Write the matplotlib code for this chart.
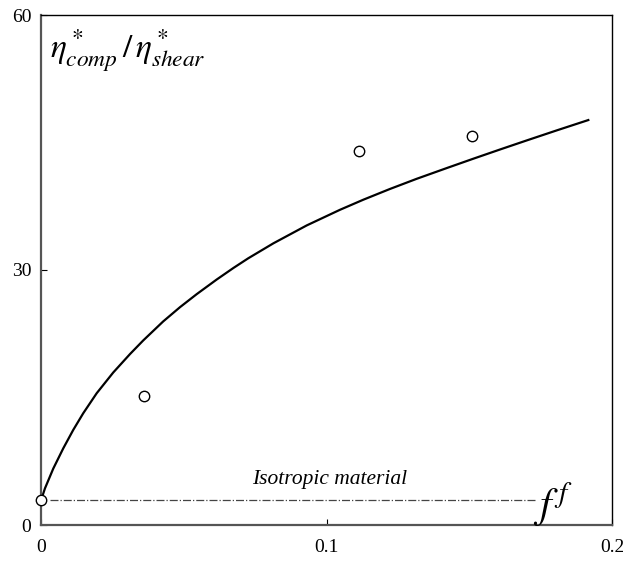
import matplotlib
matplotlib.use("Agg")
import matplotlib.pyplot as plt

plt.rcParams['font.family'] = ['Liberation Serif', 'DejaVu Serif']
plt.rcParams['mathtext.fontset'] = 'stix'

# model curve
curve_f = [0.0, 0.0014, 0.0043, 0.0078, 0.0113, 0.0148, 0.0195, 0.0253, 0.0312,
           0.0358, 0.0428, 0.0487, 0.0545, 0.0615, 0.0674, 0.0726, 0.0814,
           0.0931, 0.1047, 0.1129, 0.1222, 0.1316, 0.1421, 0.1514, 0.1608,
           0.1701, 0.1806, 0.1917]
curve_ratio = [2.9, 4.32, 6.64, 9.02, 11.19, 13.15, 15.50, 17.94, 20.12,
               21.71, 23.95, 25.63, 27.15, 28.87, 30.24, 31.38, 33.14,
               35.25, 37.08, 38.27, 39.53, 40.73, 41.99, 43.09, 44.18,
               45.24, 46.42, 47.64]

# measured points
meas_f = [0.0, 0.0361, 0.1114, 0.1510]
meas_ratio = [2.9, 15.2, 44.0, 45.8]

# isotropic reference line
iso_f = [0.003, 0.173]
iso_ratio = [2.9, 2.9]

xticks = [0, 0.1, 0.2]
xticklabels = ['0', '0.1', '0.2']
yticks = [0, 30, 60]
yticklabels = ['0', '30', '60']

fig = plt.figure(figsize=(6.23, 5.62), dpi=100)
ax = fig.add_axes([41 / 623, 37 / 562, 571 / 623, 510 / 562])

ax.plot(curve_f, curve_ratio, color='black', lw=1.6, zorder=2,
        solid_joinstyle='round')
ax.plot(iso_f, iso_ratio, color='#444444', lw=0.9, ls='-.', zorder=1)
ax.plot(meas_f, meas_ratio, 'o', ms=7.5, mfc='white', mec='black', mew=1.0,
        zorder=3, clip_on=False)

ax.set_xlim(0, 0.2)
ax.set_ylim(0, 60)
ax.set_xticks(xticks)
ax.set_xticklabels(xticklabels)
ax.set_yticks(yticks)
ax.set_yticklabels(yticklabels)
ax.tick_params(direction='in', length=4, width=0.8, labelsize=14)
ax.tick_params(axis='x', pad=10)
ax.tick_params(axis='y', pad=7)

for side in ['left', 'bottom']:
    ax.spines[side].set_linewidth(1.6)
    ax.spines[side].set_color('#555555')
for side in ['top', 'right']:
    ax.spines[side].set_linewidth(1.0)

ax.text(0.003, 58.6, r'$\eta^*_{comp}\,/\,\eta^*_{shear}$', fontsize=24,
        ha='left', va='top')
ax.text(0.101, 5.4, 'Isotropic material', fontsize=15.5, style='italic',
        ha='center', va='center')
ax.text(0.1795, 2.4, r'$f^{\,f}$', fontsize=30, ha='center', va='center')

fig.savefig('out.png', dpi=100)
